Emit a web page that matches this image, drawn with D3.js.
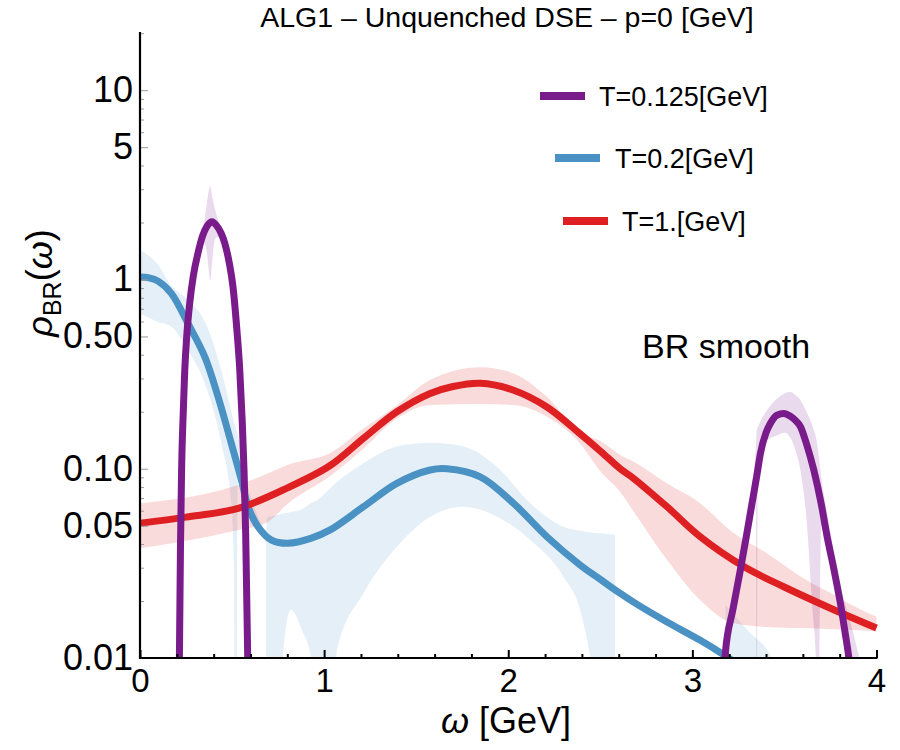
<!DOCTYPE html>
<html><head><meta charset="utf-8">
<script src="https://cdn.jsdelivr.net/npm/d3@7"></script>
<style>
body{margin:0;background:#fff}
svg{display:block}
text{font-family:"Liberation Sans",Arial,Helvetica,sans-serif;fill:#000}
</style>
</head><body>
<svg id="chart" width="900" height="750"></svg>
<script>
// ---------------- data ----------------
const titleText = "ALG1 \u2013 Unquenched DSE \u2013 p=0 [GeV]";
const seriesNames = ["T=0.125[GeV]", "T=0.2[GeV]", "T=1.[GeV]"];

// T = 0.125 GeV (purple): two peaks, null separates them
const purpleW = [0.200,0.214,0.220,0.226,0.235,0.243,0.255,0.270,0.290,0.315,0.340,0.365,0.391,0.415,0.440,0.460,0.485,0.505,0.525,0.542,0.555,0.565,0.574,0.580,0.585,0.595,
                 null,
                 3.150,3.179,3.220,3.260,3.295,3.324,3.350,3.370,3.400,3.424,3.460,3.496,3.530,3.560,3.587,3.620,3.660,3.700,3.732,3.770,3.804,3.830,3.850,3.880];
const purpleV = [0.002,0.010,0.040,0.100,0.200,0.330,0.520,0.750,1.050,1.380,1.700,1.920,2.020,1.930,1.760,1.560,1.220,0.915,0.560,0.330,0.180,0.098,0.045,0.020,0.010,0.002,
                 null,
                 0.002,0.0106,0.018,0.029,0.045,0.0656,0.092,0.121,0.155,0.174,0.192,0.196,0.190,0.180,0.167,0.135,0.098,0.065,0.0437,0.029,0.0194,0.0135,0.0100,0.005];
const purpleBandW  = [0.205,0.214,0.226,0.243,0.270,0.315,0.340,0.360,0.372,0.382,0.392,0.410,0.435,0.460,0.505,0.542,0.565,0.580,0.590,0.600,
                      null,
                      3.100,3.180,3.260,3.320,3.345,3.350,3.355,3.400,3.460,3.500,3.530,3.560,3.587,3.620,3.650,3.675,3.685,3.700,3.730,3.800,3.870,3.930];
const purpleBandLo = [0.001,0.005,0.080,0.280,0.680,1.300,1.600,1.450,1.150,0.990,1.250,1.650,1.680,1.500,0.880,0.310,0.090,0.018,0.005,0.001,
                      null,
                      0.001,0.009,0.026,0.060,0.080,0.003,0.090,0.140,0.150,0.155,0.147,0.125,0.098,0.054,0.0194,0.008,0.003,0.050,0.040,0.017,0.007,0.003];
const purpleBandHi = [0.004,0.012,0.120,0.380,0.820,1.480,1.800,2.400,2.900,3.100,2.750,2.300,1.900,1.700,1.100,0.500,0.170,0.040,0.012,0.004,
                      null,
                      0.003,0.013,0.033,0.075,0.130,0.160,0.165,0.200,0.235,0.250,0.255,0.245,0.230,0.200,0.170,0.140,0.120,0.090,0.060,0.025,0.014,0.008];

// T = 0.2 GeV (blue)
const blueW = [0,0.05,0.098,0.17,0.26,0.352,0.424,0.496,0.551,0.587,0.641,0.714,0.804,0.931,1.033,1.214,1.395,1.576,1.667,1.848,2.029,2.21,2.39,2.5,2.6,2.7,2.862,3.043,3.17,3.3];
const blueV = [1.03,1.02,0.98,0.845,0.587,0.39,0.24,0.136,0.087,0.063,0.0494,0.042,0.0404,0.043,0.0475,0.063,0.0837,0.0985,0.100,0.0906,0.0656,0.0437,0.031,0.026,0.0222,0.0192,0.0155,0.0124,0.0104,0.0085];
const blueBandW  = [0.000,0.090,0.170,0.260,0.352,0.442,0.496,0.511,0.516,0.523,0.530,0.587,0.641,0.685,0.690,0.750,0.775,0.820,0.880,0.930,0.960,1.040,1.070,1.214,1.395,1.576,1.757,1.940,2.120,2.300,2.390,2.446,2.500,2.580,
                    null,
                    3.180,3.300,3.440,3.500];
const blueBandLo = [0.660,0.600,0.563,0.424,0.283,0.136,0.0656,0.029,0.002,0.002,0.085,0.058,0.046,0.040,0.002,0.004,0.010,0.018,0.014,0.010,0.004,0.006,0.011,0.022,0.0387,0.0558,0.063,0.0558,0.042,0.0269,0.018,0.010,0.004,0.002,
                    null,
                    0.002,0.002,0.002,0.002];
const blueBandHi = [1.430,1.220,0.930,0.780,0.600,0.330,0.200,0.175,0.170,0.160,0.152,0.080,0.056,0.047,0.0555,0.057,0.058,0.059,0.061,0.066,0.068,0.080,0.085,0.107,0.131,0.137,0.131,0.102,0.0656,0.0494,0.047,0.046,0.0456,0.0447,
                    null,
                    0.019,0.014,0.0095,0.006];

// T = 1 GeV (red)
const redW = [0.000,0.250,0.533,0.804,1.033,1.214,1.395,1.576,1.700,1.848,2.029,2.210,2.390,2.500,2.610,2.681,2.862,3.043,3.279,3.496,3.768,4.000];
const redV = [0.0515,0.0555,0.0618,0.0795,0.104,0.145,0.200,0.250,0.272,0.283,0.260,0.212,0.153,0.124,0.0996,0.0889,0.063,0.0437,0.0304,0.0238,0.0180,0.0144];
const redBandW  = [0.000,0.533,0.690,0.804,1.033,1.214,1.395,1.576,1.848,2.029,2.210,2.390,2.500,2.610,2.681,2.862,3.043,3.220,3.400,3.590,3.770,3.850,4.000];
const redBandLo = [0.038,0.0475,0.052,0.0656,0.0915,0.128,0.184,0.217,0.220,0.217,0.188,0.136,0.097,0.075,0.0595,0.033,0.0202,0.0153,0.0146,0.0144,0.0142,0.0141,0.0138];
const redBandHi = [0.0656,0.082,0.094,0.105,0.121,0.163,0.216,0.295,0.344,0.319,0.240,0.155,0.140,0.118,0.109,0.0837,0.0656,0.046,0.036,0.0269,0.0215,0.0194,0.0165];

// axes
const xMajorTicks = [0,1,2,3,4];
const xMinorTicks = [0.2,0.4,0.6,0.8,1.2,1.4,1.6,1.8,2.2,2.4,2.6,2.8,3.2,3.4,3.6,3.8];
const yTickVals   = [0.01,0.05,0.1,0.5,1,5,10];
const yTickLabels = ["0.01","0.05","0.10","0.50","1","5","10"];
const yDomain = [0.01, 20.3];
const xDomain = [0, 4];

// ---------------- drawing ----------------
const colors = {purple:"#7a1b8c", blue:"#4a91c4", red:"#de2022"};
const svg = d3.select("#chart");
const L = 140, R = 876.5, T = 32, B = 658;
const x = d3.scaleLinear().domain(xDomain).range([L, R]);
const y = d3.scaleLog().domain(yDomain).range([B, T]);

svg.append("defs").append("clipPath").attr("id","plotclip")
  .append("rect").attr("x",L).attr("y",T).attr("width",R-L+2).attr("height",B-T);

const zip3 = (w,a,b) => w.map((d,i)=>({w:d, lo:a[i], hi:b[i]}));
const zip2 = (w,v) => w.map((d,i)=>({w:d, v:v[i]}));

const area = d3.area()
  .defined(d => d.w != null)
  .x(d => x(d.w)).y0(d => y(d.lo)).y1(d => y(d.hi))
  .curve(d3.curveMonotoneX);
const lineFor = curve => d3.line()
  .defined(d => d.w != null)
  .x(d => x(d.w)).y(d => y(d.v))
  .curve(curve);

const plot = svg.append("g").attr("clip-path","url(#plotclip)");

plot.append("path").datum(zip3(blueBandW, blueBandLo, blueBandHi))
  .attr("d", area).attr("fill", colors.blue).attr("fill-opacity", 0.14);
plot.append("path").datum(zip3(redBandW, redBandLo, redBandHi))
  .attr("d", area).attr("fill", colors.red).attr("fill-opacity", 0.16);
plot.append("path").datum(zip3(purpleBandW, purpleBandLo, purpleBandHi))
  .attr("d", area).attr("fill", colors.purple).attr("fill-opacity", 0.16);

const drawLine = (data, c, curve) => plot.append("path").datum(data)
  .attr("d", lineFor(curve)).attr("fill","none").attr("stroke", c)
  .attr("stroke-width", 7).attr("stroke-linejoin","round");
drawLine(zip2(blueW, blueV), colors.blue, d3.curveCatmullRom.alpha(0.5));
drawLine(zip2(redW, redV), colors.red, d3.curveCatmullRom.alpha(0.5));
drawLine(zip2(purpleW, purpleV), colors.purple, d3.curveMonotoneX);

// y axis minor ticks
const yMinor = [];
for (let k=-2; k<=1; k++) for (let m=1; m<=9; m++) {
  const v = m*Math.pow(10,k);
  if (v <= yDomain[1] && !yTickVals.some(t => Math.abs(t-v)/v < 1e-9)) yMinor.push(v);
}
const gyMinor = svg.append("g").attr("transform",`translate(${L},0)`)
  .call(d3.axisLeft(y).tickValues(yMinor).tickSizeInner(-4).tickSizeOuter(0).tickFormat(""));
gyMinor.select(".domain").remove();
gyMinor.selectAll(".tick line").attr("stroke","#999").attr("stroke-width",1);

const gy = svg.append("g").attr("transform",`translate(${L},0)`)
  .call(d3.axisLeft(y).tickValues(yTickVals).tickSizeInner(-8).tickSizeOuter(0).tickPadding(7)
        .tickFormat((d,i)=>yTickLabels[i]));
gy.select(".domain").remove();
gy.selectAll(".tick line").attr("stroke","#999").attr("stroke-width",1);
gy.selectAll(".tick text").attr("font-size",36).attr("font-family","Liberation Sans, Arial, sans-serif").attr("fill","#000");

// x axis
const gxMinor = svg.append("g").attr("transform",`translate(0,${B})`)
  .call(d3.axisBottom(x).tickValues(xMinorTicks).tickSizeInner(-4).tickSizeOuter(0).tickFormat(""));
gxMinor.select(".domain").remove();
gxMinor.selectAll(".tick line").attr("stroke","#000").attr("stroke-width",2);

const gx = svg.append("g").attr("transform",`translate(0,${B})`)
  .call(d3.axisBottom(x).tickValues(xMajorTicks).tickSizeInner(-8).tickSizeOuter(0).tickPadding(11)
        .tickFormat(d3.format("d")));
gx.select(".domain").remove();
gx.selectAll(".tick line").attr("stroke","#000").attr("stroke-width",2);
gx.selectAll(".tick text").attr("font-size",33).attr("font-family","Liberation Sans, Arial, sans-serif").attr("fill","#000");

// axis lines
svg.append("line").attr("x1",L).attr("x2",L).attr("y1",T).attr("y2",B+1)
  .attr("stroke","#000").attr("stroke-width",2.2);
svg.append("line").attr("x1",L-1).attr("x2",R+1).attr("y1",B).attr("y2",B)
  .attr("stroke","#000").attr("stroke-width",2.2);

// title
svg.append("text").attr("x",507).attr("y",27).attr("text-anchor","middle")
  .attr("font-size",28.5).text(titleText);

// axis labels
const xl = svg.append("text").attr("x",506).attr("y",733).attr("text-anchor","middle").attr("font-size",36);
xl.append("tspan").attr("font-style","italic").text("\u03c9");
xl.append("tspan").text(" [GeV]");

const yl = svg.append("text").attr("transform","translate(52,283) rotate(-90)")
  .attr("text-anchor","middle").attr("font-size",36);
yl.append("tspan").attr("font-style","italic").text("\u03c1");
yl.append("tspan").attr("font-size",25).attr("dy",9).text("BR");
yl.append("tspan").attr("dy",-9).text("(");
yl.append("tspan").attr("font-style","italic").text("\u03c9");
yl.append("tspan").text(")");

// annotation
svg.append("text").attr("x",642).attr("y",358).attr("font-size",34).text("BR smooth");

// legend
const legendPos = [{x1:540,x2:585,tx:599,y:96},{x1:555,x2:600,tx:615,y:158},{x1:563,x2:608,tx:622,y:221}];
const legendColors = [colors.purple, colors.blue, colors.red];
seriesNames.forEach((name,i)=>{
  const p = legendPos[i];
  svg.append("line").attr("x1",p.x1).attr("x2",p.x2).attr("y1",p.y).attr("y2",p.y)
    .attr("stroke",legendColors[i]).attr("stroke-width",8);
  svg.append("text").attr("x",p.tx).attr("y",p.y+10).attr("font-size",27).text(name);
});
</script>
</body></html>
